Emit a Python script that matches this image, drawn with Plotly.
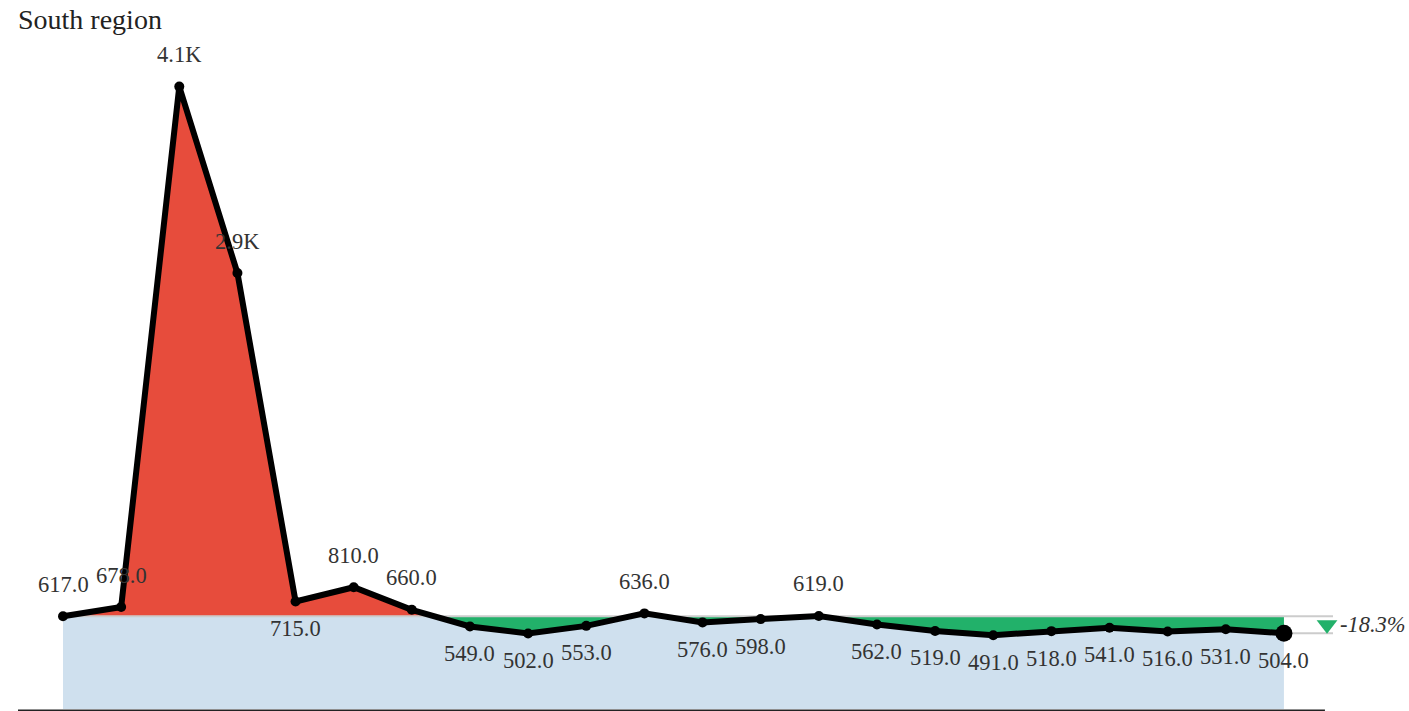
import plotly.graph_objects as go

title = "South region"
values = [617, 678, 4140, 2900, 715, 810, 660, 549, 502, 553, 636, 576, 598, 619,
          562, 519, 491, 518, 541, 516, 531, 504]
labels = ["617.0", "678.0", "4.1K", "2.9K", "715.0", "810.0", "660.0", "549.0", "502.0",
          "553.0", "636.0", "576.0", "598.0", "619.0", "562.0", "519.0", "491.0", "518.0",
          "541.0", "516.0", "531.0", "504.0"]
label_above = [True, True, True, True, False, True, True, False, False, False, True,
               False, False, True, False, False, False, False, False, False, False, False]

FONT = "Liberation Serif"
RED = "#e74c3c"
GREEN = "#22b16a"
BLUE = "#cfe0ee"

n = len(values)
xs = list(range(n))
base = values[0]
change = (values[-1] - base) / base * 100

# build point list including baseline crossings
px, py = [], []
for i in range(n):
    px.append(xs[i]); py.append(values[i])
    if i < n - 1:
        a, b = values[i] - base, values[i + 1] - base
        if a * b < 0:
            t = a / (a - b)
            px.append(xs[i] + t); py.append(base)
y_up = [max(v, base) for v in py]
y_dn = [min(v, base) for v in py]

fig = go.Figure()
# blue area below baseline
fig.add_trace(go.Scatter(x=[xs[0], xs[-1]], y=[base, base], mode="lines",
                         line=dict(width=0), fill="tozeroy", fillcolor=BLUE,
                         hoverinfo="skip", showlegend=False))
# red area
fig.add_trace(go.Scatter(x=px, y=[base] * len(px), mode="lines", line=dict(width=0),
                         hoverinfo="skip", showlegend=False))
fig.add_trace(go.Scatter(x=px, y=y_up, mode="lines", line=dict(width=0), fill="tonexty",
                         fillcolor=RED, hoverinfo="skip", showlegend=False))
# green area
fig.add_trace(go.Scatter(x=px, y=[base] * len(px), mode="lines", line=dict(width=0),
                         hoverinfo="skip", showlegend=False))
fig.add_trace(go.Scatter(x=px, y=y_dn, mode="lines", line=dict(width=0), fill="tonexty",
                         fillcolor=GREEN, hoverinfo="skip", showlegend=False))
# baseline and last-value reference lines
right_x = n - 1 + 0.844
fig.add_trace(go.Scatter(x=[xs[0], right_x], y=[base, base], mode="lines",
                         line=dict(color="#cccccc", width=2), hoverinfo="skip", showlegend=False))
fig.add_trace(go.Scatter(x=[xs[-1], right_x], y=[values[-1], values[-1]], mode="lines",
                         line=dict(color="#cccccc", width=2), hoverinfo="skip", showlegend=False))
# main line
fig.add_trace(go.Scatter(x=xs, y=values, mode="lines+markers",
                         line=dict(color="black", width=6),
                         marker=dict(color="black", size=10), showlegend=False))
# last point
fig.add_trace(go.Scatter(x=[xs[-1]], y=[values[-1]], mode="markers",
                         marker=dict(color="black", size=17), showlegend=False))
# change triangle
fig.add_trace(go.Scatter(x=[n - 1 + 0.741], y=[(base + values[-1]) / 2], mode="markers",
                         marker=dict(symbol="triangle-down", color=GREEN, size=18,
                                     line=dict(width=0)), showlegend=False))

annotations = []
for i in range(n):
    annotations.append(dict(x=xs[i], y=values[i], text=labels[i], showarrow=False,
                            xref="x", yref="y", yshift=32 if label_above[i] else -27,
                            font=dict(family=FONT, size=22.5, color="#333333")))
annotations.append(dict(x=n - 1 + 0.93, y=(base + values[-1]) / 2,
                        text="<i>%.1f%%</i>" % change, showarrow=False, xanchor="left",
                        xref="x", yref="y", font=dict(family=FONT, size=22.5, color="#333333")))
annotations.append(dict(x=0, y=1, xref="paper", yref="paper", xanchor="left", yanchor="top",
                        text=title, showarrow=False, xshift=-2, yshift=38,
                        font=dict(family=FONT, size=28, color="#222222")))

fig.update_layout(
    width=1409, height=711,
    margin=dict(l=18, r=0, t=40, b=2),
    paper_bgcolor="white", plot_bgcolor="white",
    xaxis=dict(range=[-0.774, 23.151], showgrid=False, zeroline=False, showticklabels=False,
               ticks="", showline=False),
    yaxis=dict(range=[0, 4450], showgrid=False, zeroline=False, showticklabels=False,
               ticks="", showline=False),
    shapes=[dict(type="line", xref="x", yref="paper", x0=-0.774, x1=21.705,
                 y0=-0.0022, y1=-0.0022, line=dict(color="#222222", width=2))],
    annotations=annotations,
    hovermode=False,
)
fig.write_html("out.html", config={"displayModeBar": False},
               post_script="document.body.style.margin='0';document.body.style.overflow='hidden';")
